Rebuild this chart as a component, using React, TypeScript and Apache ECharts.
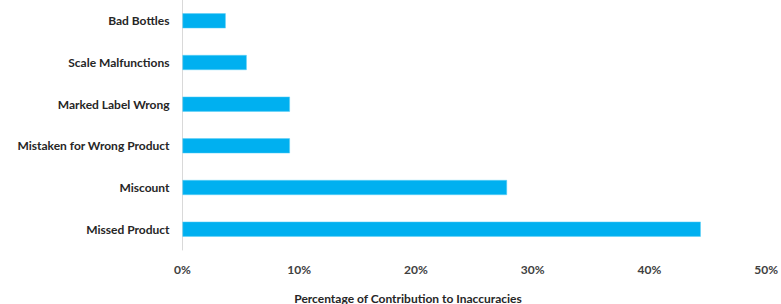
import React, { useEffect, useRef } from "react";
import * as echarts from "echarts";

const categories = [
  "Missed Product",
  "Miscount",
  "Mistaken for Wrong Product",
  "Marked Label Wrong",
  "Scale Malfunctions",
  "Bad Bottles",
];
const values = [44.4, 27.8, 9.2, 9.2, 5.5, 3.7];
const xTicks = [0, 10, 20, 30, 40, 50];
const axisTitle = "Percentage of Contribution to Inaccuracies";

export default function App() {
  const ref = useRef<HTMLDivElement>(null);
  useEffect(() => {
    if (!ref.current) return;
    const chart = echarts.init(ref.current, null, { renderer: "svg" });
    const font = "Lato, 'Open Sans', sans-serif";
    chart.setOption({
      animation: false,
      grid: { left: 182.5, right: 13.7, top: -5.5, bottom: 54, containLabel: false },
      xAxis: {
        type: "value",
        min: xTicks[0],
        max: xTicks[xTicks.length - 1],
        interval: 10,
        axisLine: { show: false },
        axisTick: { show: false },
        splitLine: { show: false },
        axisLabel: {
          formatter: (v: number) => `${v}%`,
          color: "#404040",
          fontFamily: font,
          fontWeight: "bold",
          fontSize: 12,
          margin: 13,
        },
      },
      yAxis: {
        type: "category",
        data: categories,
        axisLine: { show: true, lineStyle: { color: "#d9d9d9", width: 1 } },
        axisTick: { show: false },
        axisLabel: {
          color: "#262626",
          fontFamily: font,
          fontWeight: "bold",
          fontSize: 12,
          margin: 13,
        },
      },
      graphic: [
        {
          type: "text",
          x: 408,
          y: 298,
          style: {
            text: axisTitle,
            fill: "#262626",
            font: `bold 12px ${font}`,
            textAlign: "center",
            textVerticalAlign: "middle",
          },
        },
      ],
      series: [
        {
          type: "bar",
          data: values,
          barWidth: 15,
          itemStyle: { color: "#00B0F0", borderColor: "#5fd0f7", borderWidth: 0.5 },
        },
      ],
    });
    return () => chart.dispose();
  }, []);
  return <div ref={ref} style={{ width: 781, height: 304, position: "absolute", left: 0, top: 0 }} />;
}
